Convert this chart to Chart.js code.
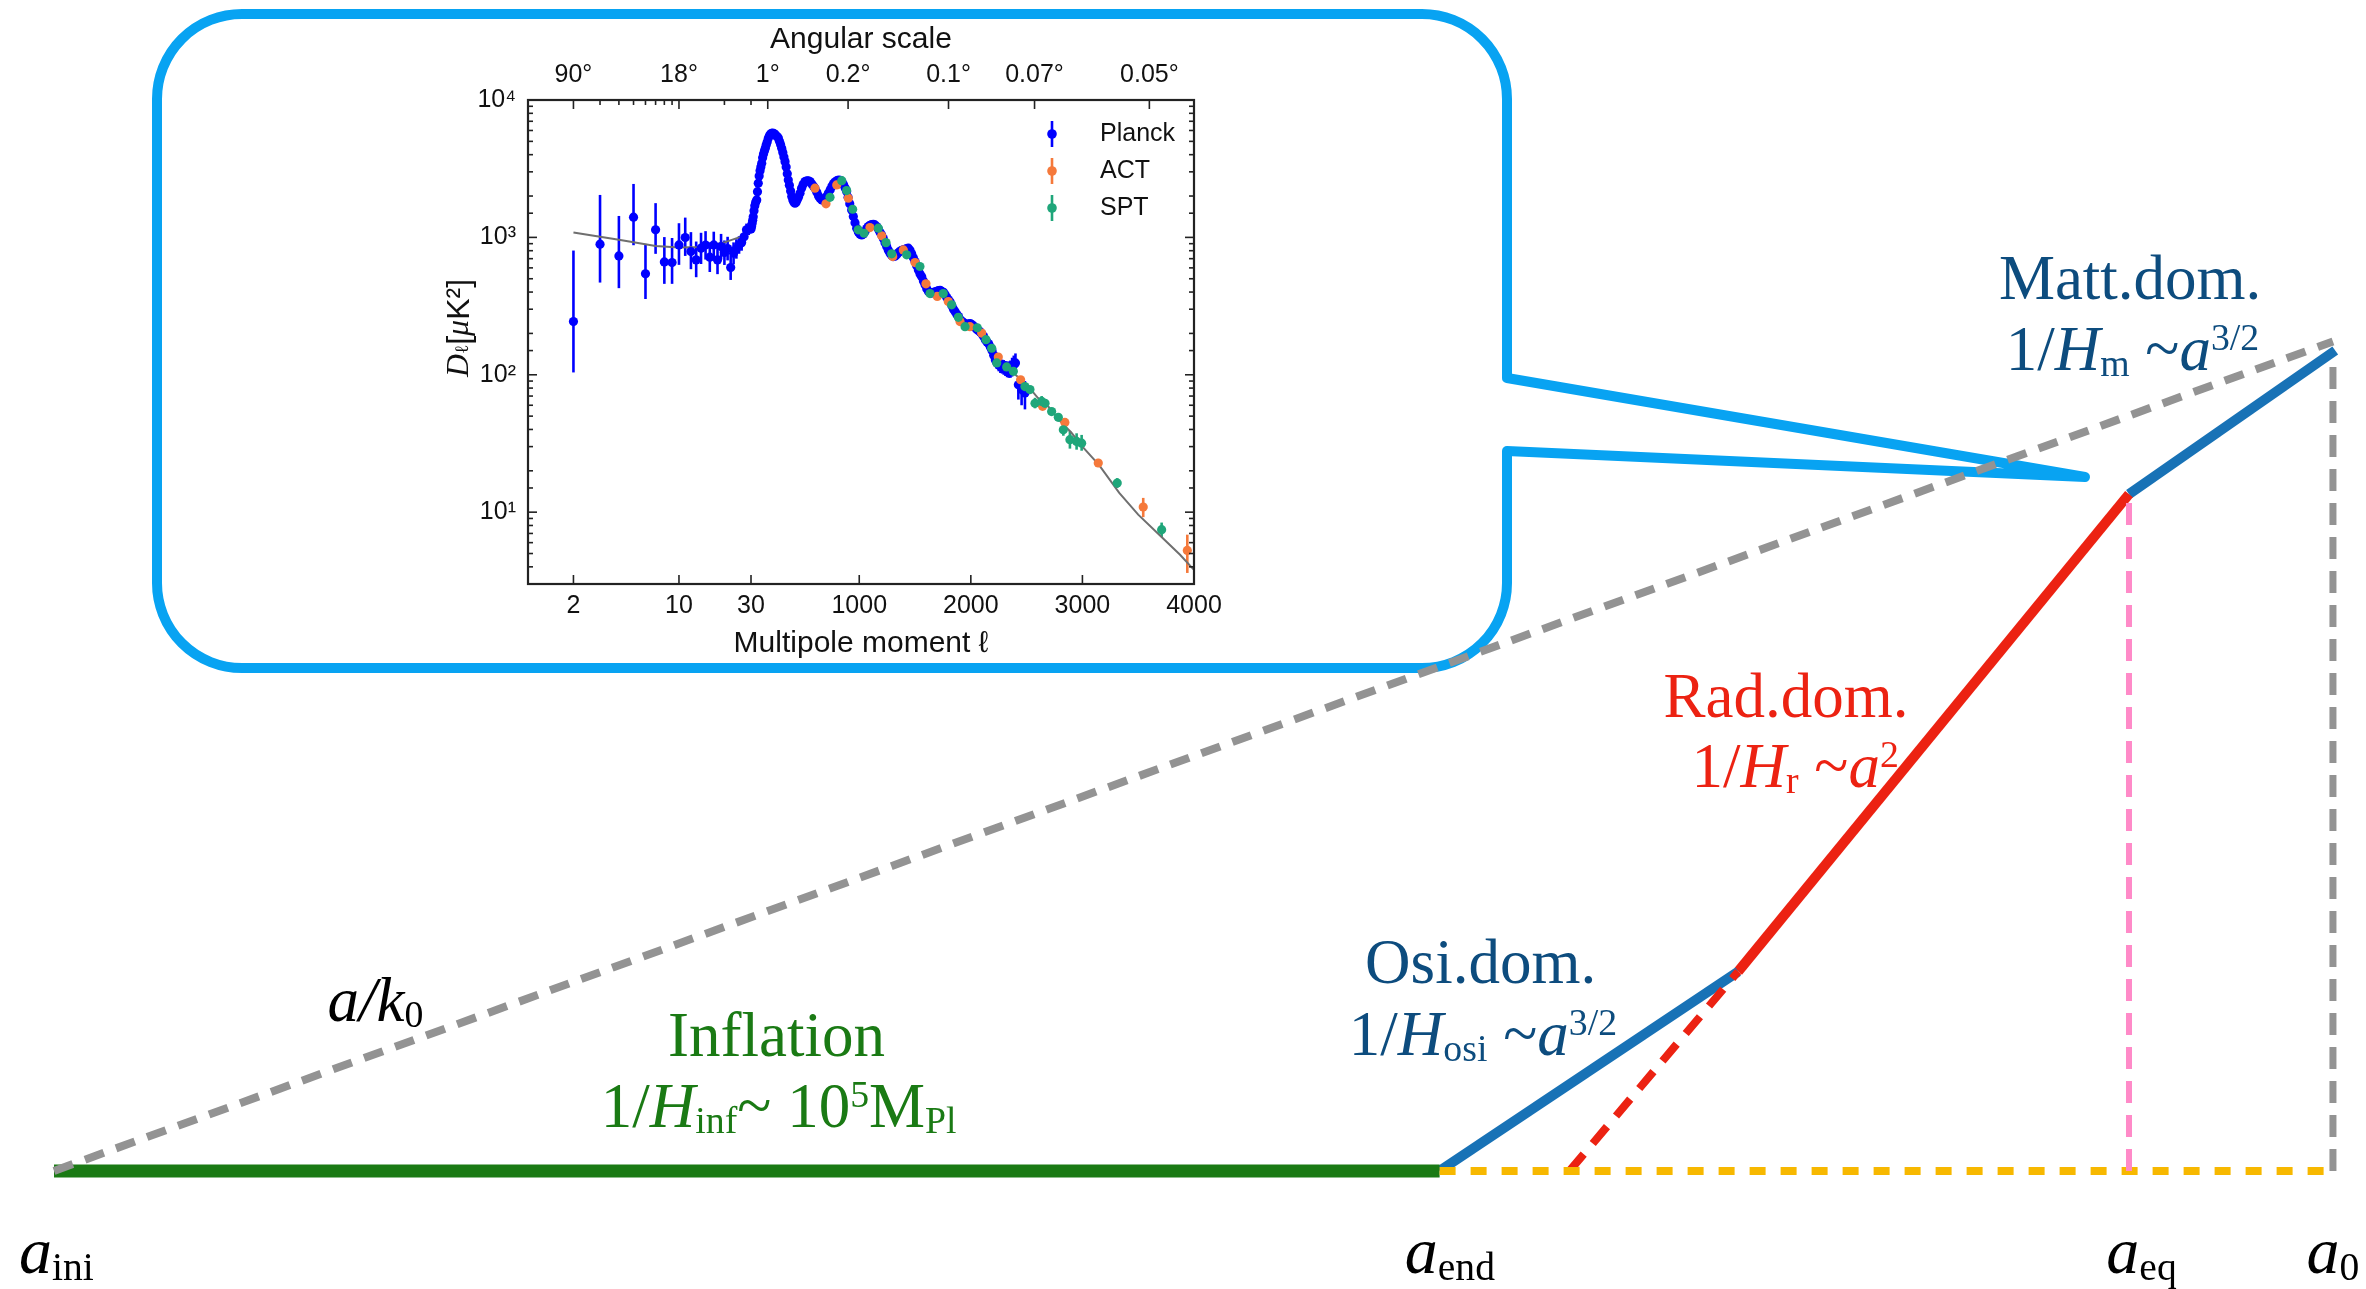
<!DOCTYPE html>
<html>
<head>
<meta charset="utf-8">
<script src="https://cdn.jsdelivr.net/npm/chart.js@4.4.1/dist/chart.umd.min.js"></script>
<style>
  html, body { margin: 0; padding: 0; background: #fff; }
  #stage { position: relative; width: 2366px; height: 1289px; overflow: hidden; }
  #mainChart { position: absolute; left: 0; top: 0; }
  #cmbChart { position: absolute; left: 400px; top: 20px; }
</style>
</head>
<body>
<div id="stage">
  <canvas id="mainChart" width="2366" height="1289"></canvas>
  <canvas id="cmbChart" width="840" height="642"></canvas>
</div>
<script>
// ---- Hubble-radius history (x: ln a in arbitrary units, y: comoving 1/H) ----
// turning points: a_ini, a_end, osc->rad, a_eq, a_0
const eraX = [0, 60.8, 73.9, 91.05, 100.1];
const hubbleR = [0, 0, 8.75, 29.7, 36.0];
// comoving wavelength a/k0 of today's horizon mode
const modeX = [0, 100];
const modeY = [0, 36.4];
// where the radiation-era line would hit the inflation level
const radExtrapX = 66.5;
const nowX = 100;
const nowTop = 35.7;

// ---- CMB TT spectrum (l, D_l in uK^2) ----
const planckLowL = [2, 3, 4, 5, 6, 7, 8, 9, 10, 11, 12, 13, 14, 15, 16, 17, 18, 19, 20, 21, 22, 23, 24, 25, 26, 27, 28, 29];
const planckLowD = [244, 893, 733, 1403, 543, 1135, 663, 656, 881, 998, 789, 686, 834, 880, 718, 881, 686, 857, 776, 830, 603, 767, 825, 880, 916, 1010, 1135, 1148];
const planckLowLo = [104, 469, 427, 877, 356, 759, 459, 459, 631, 733, 587, 513, 640, 690, 560, 700, 540, 690, 630, 680, 490, 640, 700, 760, 800, 900, 1020, 1040];
const planckLowHi = [802, 2037, 1432, 2449, 897, 1775, 1005, 990, 1268, 1393, 1092, 933, 1080, 1110, 920, 1100, 870, 1060, 950, 1010, 740, 920, 970, 1020, 1050, 1140, 1260, 1270];

const planckL = [30, 35, 40, 45, 50, 57, 64, 72, 81, 88, 95, 103, 111, 118, 126, 134, 142, 150, 158, 166, 175, 185, 195, 205, 215, 225, 235, 245, 255, 265, 275, 285, 295, 305, 315, 325, 335, 345, 355, 364, 374, 385, 395, 405, 415, 424, 434, 444, 455, 469, 483, 497, 514, 530, 545, 559, 575, 590, 603, 620, 635, 650, 665, 680, 695, 710, 723, 740, 755, 770, 785, 800, 815, 830, 845, 860, 875, 887, 900, 915, 932, 947, 962, 977, 992, 1007, 1022, 1037, 1052, 1067, 1081, 1096, 1111, 1126, 1141, 1156, 1171, 1186, 1201, 1216, 1231, 1246, 1261, 1276, 1291, 1305, 1320, 1335, 1350, 1365, 1380, 1395, 1410, 1425, 1440, 1455, 1470, 1485, 1500, 1515, 1530, 1545, 1560, 1575, 1590, 1605, 1620, 1635, 1650, 1665, 1680, 1695, 1710, 1725, 1740, 1755, 1770, 1785, 1800, 1815, 1830, 1845, 1860, 1875, 1890, 1905, 1920, 1935, 1950, 1965, 1980, 1995, 2010, 2025, 2040, 2055, 2070, 2085, 2100, 2115, 2130, 2145, 2160, 2175, 2190, 2205];
const planckD = [1150, 1200, 1260, 1330, 1415, 1560, 1700, 1800, 1874, 2150, 2478, 2800, 3050, 3250, 3460, 3800, 4050, 4250, 4450, 4700, 4950, 5260, 5500, 5650, 5720, 5740, 5700, 5620, 5500, 5400, 5300, 5000, 4750, 4460, 4150, 3850, 3560, 3250, 2900, 2616, 2400, 2180, 1982, 1870, 1800, 1774, 1800, 1880, 1960, 2095, 2280, 2430, 2548, 2580, 2575, 2548, 2450, 2360, 2280, 2130, 2000, 1920, 1874, 1860, 1900, 1990, 2095, 2220, 2360, 2470, 2540, 2585, 2616, 2600, 2540, 2420, 2280, 2155, 1960, 1760, 1585, 1420, 1280, 1166, 1095, 1055, 1042, 1060, 1105, 1160, 1200, 1225, 1240, 1245, 1233, 1200, 1150, 1090, 1042, 980, 915, 857, 805, 765, 738, 725, 730, 748, 772, 792, 806, 811, 820, 830, 834, 805, 760, 710, 667, 622, 578, 542, 518, 482, 452, 422, 404, 395, 393, 398, 402, 404, 410, 412, 404, 398, 382, 365, 351, 338, 318, 300, 287, 275, 265, 252, 245, 240, 234, 232, 235, 236, 231, 226, 220, 214, 209, 205, 198, 190, 180, 173, 168, 159, 150, 139];

const planckTailL = [2220, 2235, 2250, 2265, 2280, 2295, 2310, 2325, 2340, 2355, 2370, 2385, 2400, 2426, 2455, 2485];
const planckTailD = [128, 122, 118, 116, 115, 113, 111, 110, 109, 110, 114, 118, 122, 84.5, 78, 73.6];
const planckTailLo = [115, 110, 106, 103, 102, 100, 98, 96, 95, 95, 97, 100, 103, 66, 60, 56];
const planckTailHi = [142, 135, 131, 130, 129, 128, 126, 125, 125, 127, 133, 138, 143, 97, 96, 90];

const actL = [603, 702, 798, 902, 1096, 1201, 1300, 1395, 1500, 1598, 1699, 1798, 1903, 1992, 2097, 2246, 2446, 2643, 2843, 3142, 3545, 3940];
const actD = [2280, 1754, 2410, 1928, 1178, 1026, 725, 811, 656, 459, 372, 341, 244, 224, 201, 134.5, 92, 58.9, 45, 22.8, 10.9, 5.27];
const actLo = [null, null, null, null, null, null, null, null, null, null, null, null, null, null, null, null, null, null, 42, 21.3, 9.2, 3.61];
const actHi = [null, null, null, null, null, null, null, null, null, null, null, null, null, null, null, null, null, null, 48, 24.4, 12.7, 6.86];

const sptL = [738, 843, 887, 941, 991, 1043, 1171, 1240, 1291, 1425, 1544, 1634, 1753, 1828, 1888, 1948, 2058, 2136, 2187, 2232, 2321, 2381, 2485, 2530, 2575, 2635, 2665, 2724, 2784, 2829, 2888, 2948, 2993, 3312, 3710];
const sptD = [1958, 2587, 2190, 1603, 1135, 1072, 1166, 916, 759, 746, 614, 390, 390, 323, 262, 224, 220, 180, 156, 122, 114, 106, 82, 78, 62, 64, 62, 54, 49, 39.8, 33.7, 32.7, 31.8, 16.3, 7.46];
const sptLo = [null, null, null, null, null, null, null, null, null, null, null, null, null, null, null, null, null, null, null, null, null, null, null, null, 57, 59, null, null, null, 36, 29, 28.5, 28, 15, 6.6];
const sptHi = [null, null, null, null, null, null, null, null, null, null, null, null, null, null, null, null, null, null, null, null, null, null, null, null, 68, 70, null, null, null, 44, 39, 37.5, 36.5, 17.7, 8.4];

const theoryL = [2, 4, 7, 10, 14, 20, 25, 30, 50, 80, 120, 160, 200, 220, 250, 300, 350, 410, 470, 530, 600, 680, 750, 815, 880, 950, 1020, 1080, 1130, 1200, 1300, 1350, 1430, 1500, 1600, 1700, 1760, 1850, 1950, 2030, 2100, 2200, 2300, 2400, 2500, 2600, 2700, 2800, 2900, 3000, 3150, 3330, 3500, 3700, 3875, 4000];
const theoryD = [1084, 960, 867, 845, 850, 920, 1000, 1100, 1400, 1850, 3300, 4800, 5600, 5750, 5500, 4300, 3000, 1800, 2050, 2550, 2300, 1870, 2300, 2600, 2200, 1450, 1050, 1190, 1235, 1040, 730, 770, 830, 680, 430, 400, 410, 290, 232, 236, 200, 150, 112, 100, 85, 68, 58, 46, 38, 30, 22, 13.8, 9.6, 6.7, 4.9, 3.8];

const ellTicks = [2, 10, 30, 1000, 2000, 3000, 4000];
const ellTickLabels = ['2', '10', '30', '1000', '2000', '3000', '4000'];
const angleTicks = [2, 10, 180, 900, 1800, 2571, 3600];
const angleTickLabels = ['90°', '18°', '1°', '0.2°', '0.1°', '0.07°', '0.05°'];
const angleMinorTicks = [3, 4, 5, 6, 7, 8, 9, 20, 30];

const SERIF = '"Liberation Serif", "Times New Roman", serif';
const SANS = '"Liberation Sans", Arial, sans-serif';

// draws a run of [text, kind] pieces; kind: r roman, i italic, sub, sup
function drawRich(ctx, x, y, parts, size, color, align = 'center') {
  const runs = parts.map(([text, kind, family]) => {
    const small = kind === 'sub' || kind === 'sup';
    const fs = small ? size * 0.6 : size;
    const font = (kind === 'i' ? 'italic ' : '') + fs + 'px ' + (family || SERIF);
    ctx.font = font;
    const dy = kind === 'sub' ? size * 0.1 : kind === 'sup' ? -size * 0.32 : 0;
    return { text, font, dy, w: ctx.measureText(text).width };
  });
  const total = runs.reduce((s, r) => s + r.w, 0);
  let cx = align === 'center' ? x - total / 2 : align === 'right' ? x - total : x;
  ctx.fillStyle = color;
  ctx.textAlign = 'left';
  runs.forEach(r => {
    ctx.font = r.font;
    ctx.fillText(r.text, cx, y + r.dy);
    cx += r.w;
  });
}

// ================= main diagram =================
const BLUE_TXT = '#0d4c7e';
const RED = '#ec2212';
const GREEN = '#1a7a14';

const eraLabels = [
  { x: 91.1, y: 38.26, color: BLUE_TXT, parts: [['Matt.dom.', 'r']] },
  { x: 91.2, y: 35.15, color: BLUE_TXT, parts: [['1/', 'r'], ['H', 'i'], ['m', 'sub'], [' ~', 'r'], ['a', 'i'], ['3/2', 'sup']] },
  { x: 76.0, y: 19.92, color: RED, parts: [['Rad.dom.', 'r']] },
  { x: 76.4, y: 16.85, color: RED, parts: [['1/', 'r'], ['H', 'i'], ['r', 'sub'], [' ~', 'r'], ['a', 'i'], ['2', 'sup']] },
  { x: 62.6, y: 8.25, color: BLUE_TXT, parts: [['Osi.dom.', 'r']] },
  { x: 62.7, y: 5.09, color: BLUE_TXT, parts: [['1/', 'r'], ['H', 'i'], ['osi', 'sub'], [' ~', 'r'], ['a', 'i'], ['3/2', 'sup']] },
  { x: 31.7, y: 5.05, color: GREEN, parts: [['Inflation', 'r']] },
  { x: 31.8, y: 1.93, color: GREEN, parts: [['1/', 'r'], ['H', 'i'], ['inf', 'sub'], ['~ 10', 'r'], ['5', 'sup'], ['M', 'r'], ['Pl', 'sub']] },
  { x: 14.1, y: 6.58, color: '#000', parts: [['a/k', 'i'], ['0', 'sub']] },
  { x: 0.1, y: -4.48, color: '#000', parts: [['a', 'i'], ['ini', 'sub']], big: true },
  { x: 61.25, y: -4.48, color: '#000', parts: [['a', 'i'], ['end', 'sub']], big: true },
  { x: 91.6, y: -4.48, color: '#000', parts: [['a', 'i'], ['eq', 'sub']], big: true },
  { x: 100.0, y: -4.48, color: '#000', parts: [['a', 'i'], ['0', 'sub']], big: true }
];

const seg = (xs, ys) => xs.map((x, i) => ({ x, y: ys[i] }));

function line(data, color, width, dash) {
  return {
    data, showLine: true, borderColor: color, borderWidth: width,
    borderDash: dash || [], pointRadius: 0, fill: false, borderCapStyle: 'butt'
  };
}

// speech-bubble frame around the CMB inset
const callout = {
  id: 'callout',
  beforeDatasetsDraw(chart) {
    const ctx = chart.ctx;
    const L = 157, T = 14, R = 1507, B = 668, r = 85;
    ctx.save();
    ctx.strokeStyle = '#08a3f2';
    ctx.lineWidth = 10;
    ctx.lineJoin = 'round';
    ctx.beginPath();
    ctx.moveTo(L + r, T);
    ctx.lineTo(R - r, T);
    ctx.arcTo(R, T, R, T + r, r);
    ctx.lineTo(R, 378);
    ctx.lineTo(2085, 477);
    ctx.lineTo(R, 451);
    ctx.lineTo(R, B - r);
    ctx.arcTo(R, B, R - r, B, r);
    ctx.lineTo(L + r, B);
    ctx.arcTo(L, B, L, B - r, r);
    ctx.lineTo(L, T + r);
    ctx.arcTo(L, T, L + r, T, r);
    ctx.closePath();
    ctx.stroke();
    ctx.restore();
  }
};

const eraText = {
  id: 'eraText',
  afterDatasetsDraw(chart) {
    const { ctx, scales: { x, y } } = chart;
    ctx.save();
    ctx.textBaseline = 'alphabetic';
    eraLabels.forEach(l => {
      drawRich(ctx, x.getPixelForValue(l.x), y.getPixelForValue(l.y), l.parts, l.big ? 66 : 63, l.color);
    });
    ctx.restore();
  }
};

new Chart(document.getElementById('mainChart'), {
  type: 'scatter',
  data: {
    datasets: [
      line(seg([nowX, nowX], [0, nowTop]), '#939393', 7, [22, 12]),
      line(seg([eraX[3], eraX[3]], [0, hubbleR[3]]), '#ff8ac8', 6, [22, 12]),
      line(seg([eraX[1], nowX], [0, 0]), '#f7b800', 8, [16, 15]),
      line(seg(modeX, modeY), '#939393', 8, [20, 13]),
      line(seg([radExtrapX, eraX[2]], [0, hubbleR[2]]), RED, 8, [22, 14]),
      line(seg(eraX.slice(0, 2), hubbleR.slice(0, 2)), GREEN, 13),
      line(seg(eraX.slice(1, 3), hubbleR.slice(1, 3)), '#1872b6', 10),
      line(seg(eraX.slice(2, 4), hubbleR.slice(2, 4)), RED, 10),
      line(seg(eraX.slice(3, 5), hubbleR.slice(3, 5)), '#1872b6', 10)
    ]
  },
  options: {
    responsive: false,
    animation: false,
    devicePixelRatio: 1,
    layout: { padding: 0 },
    plugins: { legend: { display: false }, tooltip: { enabled: false } },
    scales: {
      x: { type: 'linear', min: -2.37, max: 101.45, display: false },
      y: { type: 'linear', min: -5.18, max: 51.38, display: false }
    }
  },
  plugins: [callout, eraText]
});

// ================= CMB inset =================
// Planck-style multipole axis: logarithmic below l = 30, linear above
const LOG_BREAK = 30;
const ELL_PER_DECADE = 1353;
class HybridScale extends Chart.LinearScale {
  toAxis(v) {
    return v < LOG_BREAK ? Math.log10(v) : Math.log10(LOG_BREAK) + (v - LOG_BREAK) / ELL_PER_DECADE;
  }
  fromAxis(u) {
    const b = Math.log10(LOG_BREAK);
    return u < b ? Math.pow(10, u) : LOG_BREAK + (u - b) * ELL_PER_DECADE;
  }
  getPixelForValue(v) {
    const a = this.toAxis(this.min), b = this.toAxis(this.max);
    return this.getPixelForDecimal((this.toAxis(v) - a) / (b - a));
  }
  getValueForPixel(p) {
    const a = this.toAxis(this.min), b = this.toAxis(this.max);
    return this.fromAxis(a + this.getDecimalForPixel(p) * (b - a));
  }
}
HybridScale.id = 'hybrid';
HybridScale.defaults = {};
Chart.register(HybridScale);

const PLANCK = '#0000ff';
const ACT = '#f5793b';
const SPT = '#1fa67a';
const SUP = ['⁰', '¹', '²', '³', '⁴', '⁵'];

const pairs = (lo, hi) => lo.map((v, i) => (v == null ? null : [v, hi[i]]));

const errorBars = {
  id: 'errorBars',
  beforeDatasetsDraw(chart) {
    const { ctx, chartArea, scales: { x, y } } = chart;
    ctx.save();
    ctx.beginPath();
    ctx.rect(chartArea.left, chartArea.top, chartArea.right - chartArea.left, chartArea.bottom - chartArea.top);
    ctx.clip();
    ctx.lineWidth = 2.6;
    chart.data.datasets.forEach(ds => {
      if (!ds.errors) return;
      ctx.strokeStyle = ds.backgroundColor;
      ds.errors.forEach((e, i) => {
        if (!e) return;
        const px = x.getPixelForValue(ds.data[i].x);
        ctx.beginPath();
        ctx.moveTo(px, y.getPixelForValue(e[0]));
        ctx.lineTo(px, y.getPixelForValue(e[1]));
        ctx.stroke();
      });
    });
    ctx.restore();
  }
};

// inward tick marks and the frame, matplotlib style
const frameTicks = {
  id: 'frameTicks',
  afterDraw(chart) {
    const { ctx, chartArea: { left, right, top, bottom }, scales: { x, y } } = chart;
    ctx.save();
    ctx.strokeStyle = '#222';
    ctx.lineWidth = 1.6;
    const seg2 = (x1, y1, x2, y2) => { ctx.beginPath(); ctx.moveTo(x1, y1); ctx.lineTo(x2, y2); ctx.stroke(); };
    y.ticks.forEach(t => {
      const py = y.getPixelForValue(t.value);
      const len = t.label ? 9 : 5;
      seg2(left, py, left + len, py);
      seg2(right, py, right - len, py);
    });
    ellTicks.forEach(v => { const px = x.getPixelForValue(v); seg2(px, bottom, px, bottom - 9); });
    angleTicks.forEach(v => { const px = x.getPixelForValue(v); seg2(px, top, px, top + 9); });
    angleMinorTicks.forEach(v => { const px = x.getPixelForValue(v); seg2(px, top, px, top + 5); });
    ctx.lineWidth = 2.2;
    ctx.strokeRect(left, top, right - left, bottom - top);
    ctx.restore();
  }
};

const cmbLegend = {
  id: 'cmbLegend',
  afterDraw(chart) {
    const { ctx, chartArea } = chart;
    const items = [['Planck', PLANCK], ['ACT', ACT], ['SPT', SPT]];
    const mx = chartArea.right - 142;
    ctx.save();
    items.forEach(([name, color], i) => {
      const my = chartArea.top + 34 + i * 37;
      ctx.strokeStyle = color;
      ctx.lineWidth = 2.6;
      ctx.beginPath();
      ctx.moveTo(mx, my - 13);
      ctx.lineTo(mx, my + 13);
      ctx.stroke();
      ctx.fillStyle = color;
      ctx.beginPath();
      ctx.arc(mx, my, 4.8, 0, Math.PI * 2);
      ctx.fill();
      ctx.fillStyle = '#111';
      ctx.font = '25px ' + SANS;
      ctx.textAlign = 'left';
      ctx.textBaseline = 'middle';
      ctx.fillText(name, mx + 48, my);
    });
    ctx.restore();
  }
};

const yTitle = {
  id: 'yTitle',
  afterDraw(chart) {
    const { ctx, chartArea } = chart;
    ctx.save();
    ctx.translate(chartArea.left - 68, (chartArea.top + chartArea.bottom) / 2 - 14);
    ctx.rotate(-Math.PI / 2);
    ctx.textBaseline = 'middle';
    drawRich(ctx, 0, 0, [['D', 'i', SERIF], ['ℓ', 'sub', SERIF], ['[', 'r', SANS], ['μ', 'i', SERIF], ['K²]', 'r', SANS]], 32, '#111');
    ctx.restore();
  }
};

const tickFont = { family: SANS, size: 25 };
const titleFont = { family: SANS, size: 30 };

new Chart(document.getElementById('cmbChart'), {
  type: 'scatter',
  data: {
    datasets: [
      { data: seg(theoryL, theoryD), showLine: true, borderColor: '#6f6f6f', borderWidth: 2, pointRadius: 0, order: 5 },
      { data: seg(planckLowL, planckLowD), errors: pairs(planckLowLo, planckLowHi), backgroundColor: PLANCK, borderWidth: 0, pointRadius: 4.6, order: 4 },
      { data: seg(planckL, planckD), backgroundColor: PLANCK, borderWidth: 0, pointRadius: 4.6, order: 4 },
      { data: seg(planckTailL, planckTailD), errors: pairs(planckTailLo, planckTailHi), backgroundColor: PLANCK, borderWidth: 0, pointRadius: 4.6, order: 4 },
      { data: seg(actL, actD), errors: pairs(actLo, actHi), backgroundColor: ACT, borderWidth: 0, pointRadius: 4.6, order: 2 },
      { data: seg(sptL, sptD), errors: pairs(sptLo, sptHi), backgroundColor: SPT, borderWidth: 0, pointRadius: 4.6, order: 1 }
    ]
  },
  options: {
    responsive: false,
    animation: false,
    devicePixelRatio: 1,
    layout: { padding: { left: 0, right: 46, top: 0, bottom: 0 } },
    plugins: { legend: { display: false }, tooltip: { enabled: false } },
    scales: {
      x: {
        type: 'hybrid', position: 'bottom', min: 1, max: 4000,
        afterBuildTicks: s => { s.ticks = ellTicks.map(v => ({ value: v })); },
        afterFit: s => { s.height = 78; },
        grid: { display: false, drawTicks: false },
        border: { display: false },
        ticks: { autoSkip: false, maxRotation: 0, padding: 7, color: '#111', font: tickFont, callback: (v, i) => ellTickLabels[i] },
        title: { display: true, text: 'Multipole moment ℓ', color: '#111', font: titleFont, padding: { top: 0, bottom: 0 } }
      },
      x2: {
        type: 'hybrid', position: 'top', min: 1, max: 4000,
        afterBuildTicks: s => { s.ticks = angleTicks.map(v => ({ value: v })); },
        afterFit: s => { s.height = 80; },
        grid: { display: false, drawTicks: false },
        border: { display: false },
        ticks: { autoSkip: false, maxRotation: 0, padding: 10, color: '#111', font: tickFont, callback: (v, i) => angleTickLabels[i] },
        title: { display: true, text: 'Angular scale', color: '#111', font: titleFont, padding: { top: 2, bottom: 0 } }
      },
      y: {
        type: 'logarithmic', min: 3, max: 10000,
        afterFit: s => { s.width = 128; },
        grid: { display: false, drawTicks: false },
        border: { display: false },
        ticks: {
          autoSkip: false, padding: 12, color: '#111', font: tickFont,
          callback: v => {
            const e = Math.round(Math.log10(v));
            return Math.abs(v - Math.pow(10, e)) < 1e-6 ? '10' + SUP[e] : '';
          }
        }
      }
    }
  },
  plugins: [errorBars, frameTicks, cmbLegend, yTitle]
});
</script>
</body>
</html>
